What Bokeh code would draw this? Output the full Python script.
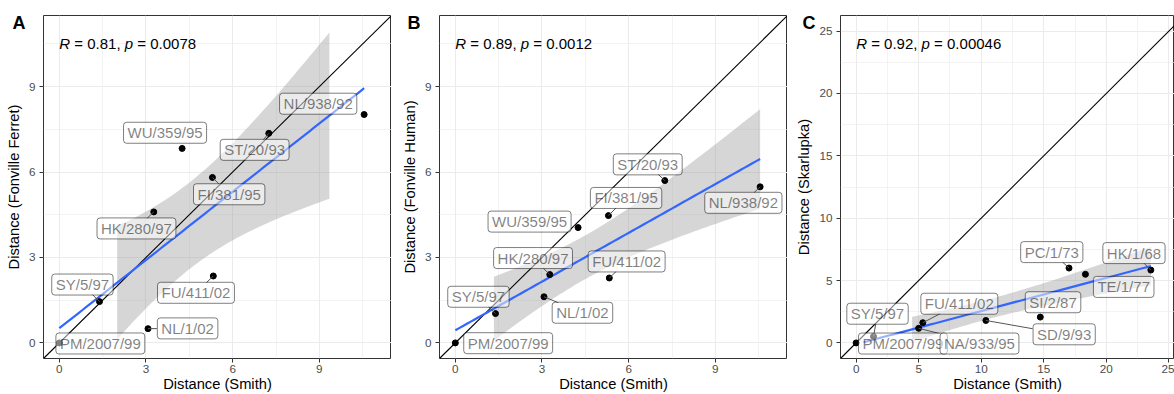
import numpy as np
from bokeh.plotting import figure
from bokeh.layouts import row
from bokeh.models import Range1d, Label, FixedTicker, ColumnDataSource, Title
from bokeh.embed import file_html
from bokeh.resources import INLINE
from bokeh.core.properties import value

# ---------------- data ----------------
names_ab = ["PM/2007/99", "SY/5/97", "NL/1/02", "HK/280/97", "FU/411/02",
            "WU/359/95", "FI/381/95", "ST/20/93", "NL/938/92"]
smith_ab = [0.0, 1.39, 3.07, 3.27, 5.33, 4.25, 5.30, 7.25, 10.55]
ferret = [0.0, 1.45, 0.50, 4.60, 2.35, 6.83, 5.81, 7.36, 8.02]
human = [0.0, 1.03, 1.62, 2.40, 2.28, 4.05, 4.47, 5.70, 5.48]

names_c = ["PM/2007/99", "SY/5/97", "NA/933/95", "FU/411/02", "SD/9/93",
           "SI/2/87", "PC/1/73", "TE/1/77", "HK/1/68"]
smith_c = [0.0, 1.39, 5.00, 5.33, 10.37, 14.72, 17.02, 18.33, 23.56]
skarlupka = [0.0, 0.51, 1.17, 1.62, 1.80, 2.07, 6.00, 5.50, 5.84]

r_vals = ["0.81", "0.89", "0.92"]
p_vals = ["0.0078", "0.0012", "0.00046"]
panel_tags = ["A", "B", "C"]
y_titles = ["Distance (Fonville Ferret)", "Distance (Fonville Human)", "Distance (Skarlupka)"]
x_title = "Distance (Smith)"
ticks_ab = [0, 3, 6, 9]
minor_ab = [1.5, 4.5, 7.5, 10.5]
ticks_c = [0, 5, 10, 15, 20, 25]
minor_c = [2.5, 7.5, 12.5, 17.5, 22.5]
limit_ab = 10.95
limit_c = 25.0

# label placements (repelled positions, data units)
lab_a_x = [1.42, 0.80, 4.44, 2.67, 4.73, 3.66, 5.88, 6.76, 8.96]
lab_a_y = [-0.02, 2.05, 0.51, 4.02, 1.76, 7.38, 5.22, 6.78, 8.40]
lab_b_x = [1.83, 0.80, 4.40, 2.69, 5.93, 2.57, 5.91, 6.66, 9.97]
lab_b_y = [-0.01, 1.62, 1.06, 2.98, 2.86, 4.26, 5.09, 6.27, 4.92]
lab_c_x = [3.74, 1.71, 9.86, 8.25, 16.63, 15.74, 15.64, 21.39, 22.21]
lab_c_y = [-0.05, 2.34, -0.05, 3.14, 0.69, 3.26, 7.28, 4.49, 7.20]

FONT = "Liberation Sans"
NB = "\u00a0"
T975 = 2.3646  # Student t 0.975 quantile, df = 7
W = {c: 556 for c in "0123456789"}
W.update({"/": 278, " ": 278, NB: 278, ".": 278, ",": 278, "=": 584, "A": 667, "C": 722,
          "D": 722, "E": 667, "F": 611, "H": 722, "I": 278, "K": 667, "L": 556, "M": 833,
          "N": 722, "P": 667, "R": 722, "S": 667, "T": 611, "U": 722, "W": 944, "Y": 667,
          "p": 556})


def tw(s, size):
    return sum(W.get(c, 556) for c in s) * size / 1000.0


def smooth(x, y, lo, hi):
    x = np.asarray(x, float)
    y = np.asarray(y, float)
    n = len(x)
    b, a = np.polyfit(x, y, 1)
    xs = np.linspace(x.min(), x.max(), 80)
    fit = a + b * xs
    res = y - (a + b * x)
    s = np.sqrt((res ** 2).sum() / (n - 2))
    se = s * np.sqrt(1.0 / n + (xs - x.mean()) ** 2 / ((x - x.mean()) ** 2).sum())
    lwr, upr = fit - T975 * se, fit + T975 * se
    rm = (lwr >= lo) & (upr <= hi)
    lm = (fit >= lo) & (fit <= hi)
    return xs[rm], lwr[rm], upr[rm], xs[lm], fit[lm]


def make_panel(idx, x, y, names, lx, ly, L, ticks, minor, fig_w, left_b, frame_w,
               xr, yr, tag_dx):
    frame_h = 344
    p = figure(width=fig_w, height=394, output_backend="svg", toolbar_location=None,
               x_range=Range1d(*xr), y_range=Range1d(*yr),
               min_border_left=left_b, min_border_right=0, min_border_top=15,
               min_border_bottom=35)
    p.outline_line_color = "#333333"
    p.outline_line_width = 1
    p.background_fill_color = "white"
    p.border_fill_color = "white"
    for ax in (p.xaxis[0], p.yaxis[0]):
        ax.ticker = FixedTicker(ticks=ticks, minor_ticks=minor)
        ax.axis_line_color = None
        ax.major_tick_line_color = "#333333"
        ax.major_tick_out = 4
        ax.major_tick_in = 0
        ax.minor_tick_line_color = None
        ax.major_label_text_color = "#4D4D4D"
        ax.major_label_text_font = FONT
        ax.major_label_text_font_size = "11.7px"
        ax.axis_label_text_font = FONT
        ax.axis_label_text_font_size = "14.7px"
        ax.axis_label_text_font_style = "normal"
        ax.axis_label_text_color = "black"
    p.xaxis.axis_label = x_title
    p.yaxis.axis_label = y_titles[idx]
    p.xaxis.major_label_standoff = 2
    p.xaxis.axis_label_standoff = 0
    p.yaxis.major_label_standoff = 4
    p.yaxis.axis_label_standoff = 4
    for g in (p.xgrid[0], p.ygrid[0]):
        g.ticker = FixedTicker(ticks=ticks, minor_ticks=minor)
        g.grid_line_color = "#EBEBEB"
        g.grid_line_width = 1.1
        g.minor_grid_line_color = "#EBEBEB"
        g.minor_grid_line_width = 0.6

    rx, rl, ru, fx, fy = smooth(x, y, 0.0, L)
    p.varea(x=rx, y1=rl, y2=ru, fill_color="#999999", fill_alpha=0.4)
    lo = min(xr[0], yr[0])
    hi = max(xr[1], yr[1])
    p.line(x=[lo, hi], y=[lo, hi], line_color="black", line_width=1.1)
    p.line(x=fx, y=fy, line_color="#3366FF", line_width=2.2)
    p.scatter(x=x, y=y, size=6, color="black")

    # segments from points to repelled labels
    sx = frame_w / (xr[1] - xr[0])
    sy = frame_h / (yr[1] - yr[0])
    x0s, y0s, x1s, y1s = [], [], [], []
    for px_, py_, cx, cy, nm in zip(x, y, lx, ly, names):
        dx = (cx - px_) * sx
        dy = (cy - py_) * sy
        hw = tw(nm, 15) / 2 + 4.5
        hh = 10
        if dx == 0 and dy == 0:
            continue
        s = min(hw / abs(dx) if dx else 1e9, hh / abs(dy) if dy else 1e9)
        if s >= 1:
            continue
        length = (1 - s) * np.hypot(dx, dy)
        if length < 8.5:
            continue
        x0s.append(px_)
        y0s.append(py_)
        x1s.append(cx - s * dx / sx)
        y1s.append(cy - s * dy / sy)
    if x0s:
        p.segment(x0=x0s, y0=y0s, x1=x1s, y1=y1s, line_color="#555555", line_width=1)

    src = ColumnDataSource(dict(x=lx, y=ly, t=names))
    p.text(x="x", y="y", text="t", source=src, text_font=value(FONT), text_font_size="15px",
           text_color="black", text_alpha=0.5, text_align="center", text_baseline="middle",
           background_fill_color="white", background_fill_alpha=0.5,
           border_line_color="black", border_line_alpha=0.5, border_line_width=1,
           padding=(4, 2), border_radius=3)

    # correlation annotation
    parts = [("R", "italic"), (NB + "=" + NB + r_vals[idx] + "," + NB, "normal"),
             ("p", "italic"), (NB + "=" + NB + p_vals[idx], "normal")]
    off = 0.0
    for txt, style in parts:
        p.add_layout(Label(x=0, y=yr[1], x_offset=off, y_offset=-27.5, text=txt,
                           text_font=FONT, text_font_size="15px", text_font_style=style,
                           text_color="black", text_align="left", text_baseline="middle"))
        off += tw(txt, 15)

    # panel tag (drawn as a title hanging into the left margin)
    p.add_layout(Title(text=panel_tags[idx], align="left", offset=tag_dx, standoff=-34,
                       vertical_align="bottom", text_font=FONT, text_font_size="18px",
                       text_font_style="bold", text_color="black"), "above")
    return p


rab = (-0.05 * limit_ab, 1.05 * limit_ab)
pA = make_panel(0, smith_ab, ferret, names_ab, lab_a_x, lab_a_y, limit_ab, ticks_ab, minor_ab,
                391, 43, 348, rab, rab, -31)
pB = make_panel(1, smith_ab, human, names_ab, lab_b_x, lab_b_y, limit_ab, ticks_ab, minor_ab,
                396, 48, 348, rab, rab, -32)
ryc = (-0.05 * limit_c, 1.05 * limit_c)
rxc = (-0.05 * limit_c, -0.05 * limit_c + 334 * (ryc[1] - ryc[0]) / 344)
pC = make_panel(2, smith_c, skarlupka, names_c, lab_c_x, lab_c_y, limit_c, ticks_c, minor_c,
                387, 53, 334, rxc, ryc, -38)

layout = row(pA, pB, pC)
open("out.html", "w").write(file_html(layout, INLINE))
